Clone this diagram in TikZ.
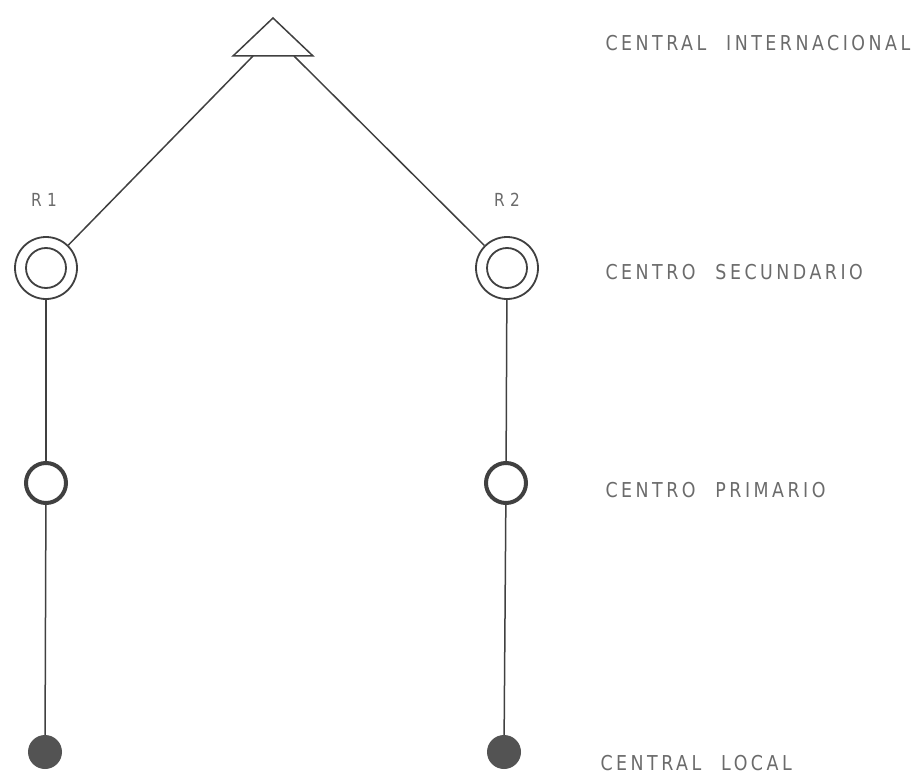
\documentclass[tikz,border=0pt]{standalone}
\usepackage{fontspec}
\setmainfont{DejaVu Sans}
\newfontfamily\rotfont[FakeStretch=0.85, WordSpace=2.2]{DejaVu Sans}
\usepackage{tikz}

\definecolor{tinta}{gray}{0.25}
\definecolor{rotulo}{gray}{0.42}

\begin{document}
\begin{tikzpicture}[x=1pt, y=-1pt,
  linea/.style={draw=tinta, line width=1.5pt},
  secundario/.style={circle, draw=tinta, line width=1.8pt, minimum size=62pt, inner sep=0pt},
  primario/.style={circle, draw=tinta, line width=4pt, minimum size=40pt, inner sep=0pt},
  local/.style={circle, fill=tinta!90, minimum size=34pt, inner sep=0pt},
  nivel/.style={anchor=west, text=rotulo, font=\rotfont\fontsize{20.5}{22}\selectfont\addfontfeature{LetterSpace=17}},
  ruta/.style={text=rotulo, font=\rotfont\fontsize{18}{20}\selectfont\addfontfeature{LetterSpace=30}}]
  \useasboundingbox (0,0) rectangle (923,778);
  % central internacional
  \draw[linea, line join=miter] (273,18) -- (313,56) -- (233,56) -- cycle;
  \coordinate (ciL) at (253,56);
  \coordinate (ciR) at (294,56);
  % centros secundarios
  \node[secundario] (R1) at (46,268) {};
  \node[secundario] (R2) at (507,268) {};
  \draw[tinta, line width=1.8pt] (R1.center) circle (20pt);
  \draw[tinta, line width=1.8pt] (R2.center) circle (20pt);
  \node[ruta] (r1lab) at (44,200) {R1};
  \node[ruta] (r2lab) at (507,200) {R2};
  % centros primarios
  \node[primario] (P1) at (46,483) {};
  \node[primario] (P2) at (506,483) {};
  % centrales locales
  \node[local] (L1) at (45,752) {};
  \node[local] (L2) at (504,752) {};
  % enlaces
  \draw[linea] (ciL) -- (R1);
  \draw[linea] (ciR) -- (R2);
  \draw[linea] (R1) -- (P1);
  \draw[linea] (P1) -- (L1);
  \draw[linea] (R2) -- (P2);
  \draw[linea] (P2) -- (L2);
  % niveles
  \node[nivel] (n1) at (602,43) {CENTRAL INTERNACIONAL};
  \node[nivel] (n2) at (602,272) {CENTRO SECUNDARIO};
  \node[nivel] (n3) at (602,490) {CENTRO PRIMARIO};
  \node[nivel] (n4) at (597,763) {CENTRAL LOCAL};
\end{tikzpicture}
\end{document}
